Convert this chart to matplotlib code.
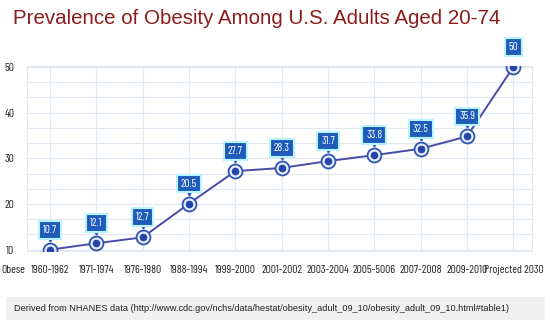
import matplotlib.pyplot as plt
import matplotlib.transforms as mtrans
import numpy as np
from matplotlib.patches import Rectangle

periods = ['1960-1962', '1971-1974', '1976-1980', '1988-1994', '1999-2000', '2001-2002',
           '2003-2004', '2005-5006', '2007-2008', '2009-2010', 'Projected 2030']
# plotted point heights (as drawn in the picture)
point_vals = [10.0, 11.4, 12.7, 20.1, 27.2, 27.9, 29.4, 30.7, 32.1, 34.8, 50.0]
# numbers printed in the callouts
label_txt = ['10.7', '12.1', '12.7', '20.5', '27.7', '28.3', '31.7', '33.8', '32.5', '35.9', '50']

DPI = 100
narrow = ['Barlow Condensed', 'Asap Condensed', 'Archivo Narrow', 'DejaVu Sans']

fig = plt.figure(figsize=(5.5, 3.29), dpi=DPI)
ax = fig.add_axes([0.049, 0.237, 0.918, 0.562])

x = np.arange(len(periods))
line_col = '#4a4aa8'
box_col = '#1f5cba'

ax.plot(x, point_vals, color=line_col, linewidth=1.4, zorder=3)
ax.plot(x, point_vals, 'o', markersize=10, markerfacecolor='#e6eeff',
        markeredgecolor='#2f55b0', markeredgewidth=1.3, zorder=4)
ax.plot(x, point_vals, 'o', markersize=4.5, color='#2446a8', zorder=5)

# little pointer under each callout box
up = ax.transData + mtrans.ScaledTranslation(0, 11 / DPI, fig.dpi_scale_trans)
ax.plot(x, point_vals, 'v', markersize=3.5, color=box_col, zorder=6, transform=up)

for xi, yi, t in zip(x, point_vals, label_txt):
    ax.annotate(t, (xi, yi), xytext=(0, 20), textcoords='offset pixels',
                ha='center', va='center', color='white', fontsize=8, family=narrow,
                bbox=dict(boxstyle='square,pad=0.35', fc=box_col, ec='#b8f4ff', lw=1.5),
                zorder=7)

ax.set_xlim(-0.5, 10.4)
ax.set_ylim(9.7, 50.2)
ax.set_yticks([10, 20, 30, 40, 50])
ax.set_yticks(np.arange(10, 50, 10 / 3.0), minor=True)
ax.set_xticks(x)
ax.set_xticklabels(periods)
for lab in ax.get_xticklabels() + ax.get_yticklabels():
    lab.set_family(narrow)
    lab.set_fontsize(8.3)
    lab.set_color('#222222')
ax.tick_params(axis='x', length=0, pad=10)
ax.tick_params(axis='y', length=0, pad=9)
ax.tick_params(which='minor', length=0)
ax.grid(True, which='both', color='#e2e8f0', linewidth=0.9)
ax.set_axisbelow(True)
for s in ax.spines.values():
    s.set_color('#e2e8f0')

ax.text(-0.028, -0.1, 'Obese', transform=ax.transAxes, ha='center', va='center',
        fontsize=8.3, family=narrow, color='#222222')

fig.text(0.024, 0.945, 'Prevalence of Obesity Among U.S. Adults Aged 20-74',
         fontsize=14.8, color='#8c1c1c', family='Liberation Sans', va='center', ha='left')

fig.patches.append(Rectangle((0.01, 0.028), 0.98, 0.068, transform=fig.transFigure,
                             fc='#f0f0f0', ec='none'))
fig.text(0.025, 0.062,
         'Derived from NHANES data (http://www.cdc.gov/nchs/data/hestat/obesity_adult_09_10/obesity_adult_09_10.html#table1)',
         fontsize=6.6, color='#222222', family='Liberation Sans', va='center', ha='left')

fig.savefig('out.png', dpi=DPI)
